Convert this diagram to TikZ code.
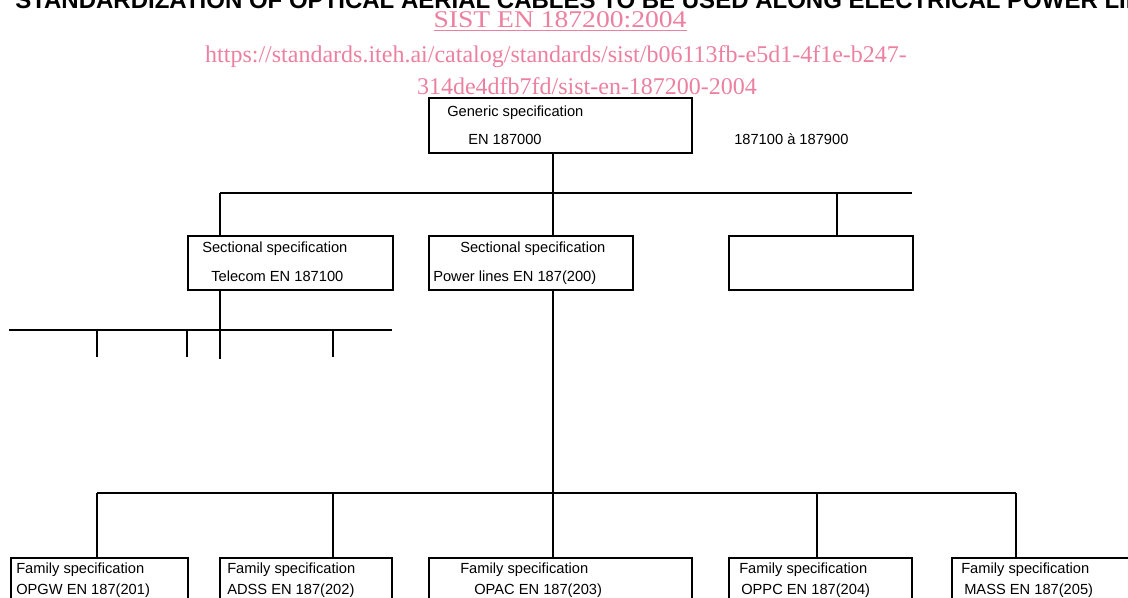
\documentclass[tikz,border=0pt]{standalone}
\usepackage{fontspec}
\usepackage{graphicx}
\setmainfont{Liberation Sans}
\newfontfamily\stdfont{Liberation Serif}
\usetikzlibrary{positioning}
\definecolor{stdpink}{RGB}{236,128,160}

\begin{document}
\begin{tikzpicture}[
    x=0.75pt, y=-0.75pt,
    spec/.style={rectangle, draw=black, line width=1.4pt, anchor=north west, inner sep=0pt, minimum height=54*0.75pt},
    conn/.style={line width=1.4pt, draw=black},
    label/.style={anchor=base west, inner sep=0pt, font=\fontsize{11}{13}\selectfont},
    stamp/.style={anchor=base, inner sep=0pt, text=stdpink, font=\stdfont\fontsize{18}{20}\selectfont}
]
    \useasboundingbox (0,0) rectangle (1128,598);
    \clip (0,0) rectangle (1128,598);

    % Heading, cut by the page edge
    \node[anchor=base west, inner sep=0pt, font=\bfseries\fontsize{18}{20}\selectfont] (title) at (15,9) {STANDARDIZATION OF OPTICAL AERIAL CABLES TO BE USED ALONG ELECTRICAL POWER LINES};

    % Stamp
    \node[stamp] (sist) at (560,28) {\scalebox{1.15}[1]{\underline{SIST EN 187200:2004}}};
    \node[stamp] (url1) at (556,63) {https://standards.iteh.ai/catalog/standards/sist/b06113fb-e5d1-4f1e-b247-};
    \node[stamp] (url2) at (587,95) {314de4dfb7fd/sist-en-187200-2004};

    % Generic layer
    \node[spec, minimum width=263*0.75pt, minimum height=55*0.75pt] (gen) at (428,97) {};
    \node[label] (gen1) at ([shift={(19,20)}]gen.north west) {Generic specification};
    \node[label] (gen2) at ([shift={(40,48)}]gen.north west) {EN 187000};
    \node[label] (range) at (734,145) {187100 à 187900};

    % Sectional layer
    \node[spec, minimum width=205*0.75pt] (tel) at (187,235) {};
    \node[label] (tel1) at ([shift={(15,18)}]tel.north west) {Sectional specification};
    \node[label] (tel2) at ([shift={(24,47)}]tel.north west) {Telecom EN 187100};
    \node[spec, minimum width=204*0.75pt] (pow) at (428,235) {};
    \node[label] (pow1) at ([shift={(32,18)}]pow.north west) {Sectional specification};
    \node[label] (pow2) at ([shift={(5,47)}]pow.north west) {Power lines EN 187(200)};
    \node[spec, minimum width=184*0.75pt] (blank) at (728,235) {};

    % Family layer
    \node[spec, minimum width=177*0.75pt, minimum height=80*0.75pt] (fam1) at (10,557) {};
    \node[spec, minimum width=172*0.75pt, minimum height=80*0.75pt] (fam2) at (219,557) {};
    \node[spec, minimum width=263*0.75pt, minimum height=80*0.75pt] (fam3) at (428,557) {};
    \node[spec, minimum width=183*0.75pt, minimum height=80*0.75pt] (fam4) at (728,557) {};
    \node[spec, minimum width=190*0.75pt, minimum height=80*0.75pt] (fam5) at (951,557) {};
    \foreach \n/\a/\b/\t in {fam1/6/6/OPGW EN 187(201), fam2/8/8/ADSS EN 187(202), fam3/32/46/OPAC EN 187(203), fam4/11/13/OPPC EN 187(204), fam5/10/13/MASS EN 187(205)} {
        \node[label] (\n a) at ([shift={(\a,16)}]\n.north west) {Family specification};
        \node[label] (\n b) at ([shift={(\b,37)}]\n.north west) {\t};
    }

    % Connections
    \coordinate (g) at (553,193);
    \coordinate (busL) at (220,193);
    \coordinate (busR) at (912,193);
    \coordinate (r) at (837,193);
    \draw[conn] (gen.south -| g) -- (pow.north -| g);
    \draw[conn] (busL) -- (busR);
    \draw[conn] (busL) -- (tel.north -| busL);
    \draw[conn] (r) -- (blank.north -| r);

    % Telecom branch (left open)
    \coordinate (tl) at (9,330);
    \coordinate (tr) at (392,330);
    \draw[conn] (tl) -- (tr);
    \draw[conn] (tel.south -| busL) -- ++(0,68);
    \foreach \x in {97,187,333} {
        \coordinate (tick\x) at (\x,330);
        \draw[conn] (tick\x) -- ++(0,27);
    }

    % Power lines branch
    \coordinate (fl) at (97,493);
    \coordinate (fr) at (1016,493);
    \draw[conn] (pow.south -| g) -- (g |- fl);
    \draw[conn] (fl) -- (fr);
    \foreach \n/\x in {fam1/97, fam2/333, fam3/553, fam4/817, fam5/1016} {
        \coordinate (t\n) at (\x,493);
        \draw[conn] (t\n) -- (\n.north -| t\n);
    }
\end{tikzpicture}
\end{document}
